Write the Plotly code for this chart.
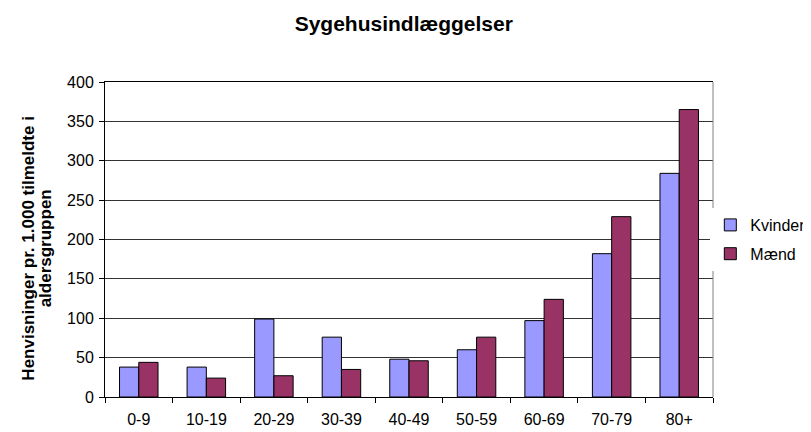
import plotly.graph_objects as go

categories = ["0-9", "10-19", "20-29", "30-39", "40-49", "50-59", "60-69", "70-79", "80+"]
kvinder = [38, 38, 99, 76, 48, 60, 97, 182, 284]
maend = [44, 24, 27, 35, 46, 76, 124, 229, 365]

FONT = "Liberation Sans, Arial, sans-serif"

fig = go.Figure()
fig.add_trace(go.Bar(name="Kvinder", x=categories, y=kvinder, legendgroup="k",
                     marker=dict(color="#9999FF", line=dict(color="#000000", width=1))))
fig.add_trace(go.Bar(name="Mænd", x=categories, y=maend, legendgroup="m",
                     marker=dict(color="#993366", line=dict(color="#000000", width=1))))

fig.update_layout(
    width=811, height=432,
    margin=dict(l=97, r=106, t=74, b=43, autoexpand=False),
    paper_bgcolor="white", plot_bgcolor="white",
    font=dict(family=FONT, size=16, color="black"),
    title=dict(text="<b>Sygehusindlæggelser</b>", x=0.488, xanchor="center",
               y=0.963, yanchor="middle", font=dict(size=21)),
    barmode="group", bargap=0.43, bargroupgap=0,
    legend=dict(xref="container", x=0.866, xanchor="left", y=0.5, yanchor="middle",
                font=dict(size=16), traceorder="grouped", tracegroupgap=5,
                itemwidth=30),
    showlegend=True,
)
fig.update_xaxes(showline=True, linecolor="black", linewidth=1, mirror=True,
                 ticks="outside", tickson="boundaries", ticklen=5, tickcolor="black",
                 showgrid=False, tickfont=dict(size=16), ticklabelstandoff=8)
fig.update_yaxes(range=[0, 400], dtick=50, showline=True, linecolor="black", linewidth=1,
                 ticks="outside", ticklen=5, tickcolor="black",
                 showgrid=True, gridcolor="#333333", gridwidth=1,
                 tickfont=dict(size=16), ticklabelstandoff=2)
fig.add_shape(type="line", xref="paper", yref="paper", x0=1, x1=1, y0=0, y1=1,
              line=dict(color="#808080", width=1))

# y-axis title as two closely spaced rotated lines
ytitle_lines = ["Henvisninger pr. 1.000 tilmeldte i", "aldersgruppen"]
for txt, xp in zip(ytitle_lines, [-0.125, -0.0975]):
    fig.add_annotation(text="<b>" + txt + "</b>", xref="paper", yref="paper",
                       x=xp, y=0.471, xanchor="center", yanchor="middle",
                       textangle=-90, showarrow=False, font=dict(size=17))

fig.write_html("out.html")
